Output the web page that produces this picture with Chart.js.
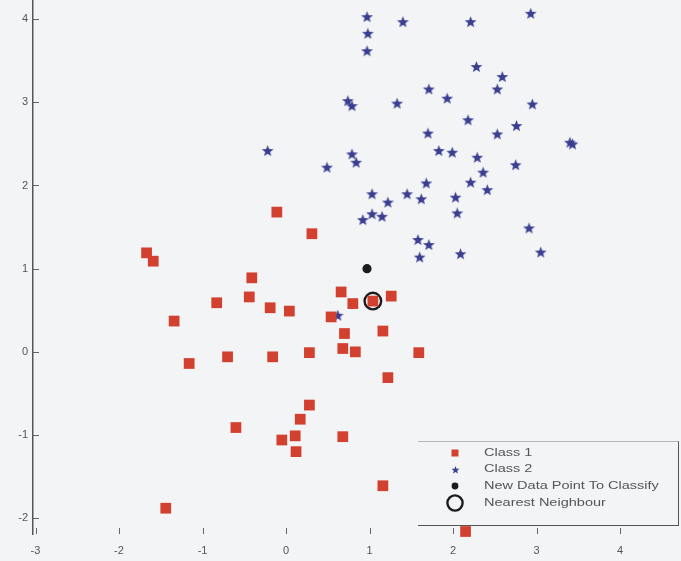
<!DOCTYPE html>
<html>
<head>
<meta charset="utf-8">
<script src="https://cdn.jsdelivr.net/npm/chart.js@4/dist/chart.umd.min.js"></script>
<style>
  html, body { margin: 0; padding: 0; background: #f3f4f6; }
  #wrap { position: relative; width: 681px; height: 561px; overflow: hidden; }
  #c { position: absolute; left: 0; top: 0; }
  #legend {
    position: absolute; left: 418px; top: 441px; width: 260px; height: 83px;
    border-top: 1px solid #b5b5b5; border-right: 1.5px solid #555; border-bottom: 1.5px solid #555;
    font-family: "Liberation Sans", Arial, sans-serif; font-size: 11px; color: #555;
  }
  .row { position: absolute; left: 0; height: 16px; width: 260px; }
  .row canvas { position: absolute; left: 27px; top: -2px; }
  .row span { position: absolute; left: 66px; top: 1px; white-space: nowrap; transform: scaleX(1.32); transform-origin: left center; }
</style>
</head>
<body>
<div id="wrap">
  <canvas id="c" width="681" height="561"></canvas>
  <div id="legend"></div>
</div>
<script>
// ---- data ----
const class1X = [-0.11, 0.31, -1.67, -1.59, -0.41, -0.44, -0.83, -0.19, 0.04, -1.34, 0.66, 0.80, 1.04, 1.26, 0.54, 1.16, 0.70, -0.70, -0.16, 0.28, 0.68, 0.83, 1.59, -1.16, 1.22, 0.28, 0.17, -0.60, 0.11, -0.05, 0.68, 0.12, 1.16, -1.44, 2.15];
const class1Y = [1.68, 1.42, 1.19, 1.09, 0.89, 0.66, 0.59, 0.53, 0.49, 0.37, 0.72, 0.58, 0.61, 0.67, 0.42, 0.25, 0.22, -0.06, -0.06, -0.01, 0.04, 0.00, -0.01, -0.14, -0.31, -0.64, -0.81, -0.91, -1.01, -1.06, -1.02, -1.20, -1.61, -1.88, -2.16];
const class2X = [0.97, 1.40, 2.21, 2.93, 0.98, 0.97, 2.28, 2.59, 2.53, 1.71, 1.93, 0.74, 0.79, 1.33, 2.95, 2.18, 2.76, 2.53, 1.70, 3.40, 3.43, 1.83, 1.99, -0.22, 0.79, 0.84, 0.49, 2.29, 2.36, 2.75, 2.21, 2.41, 1.68, 1.03, 1.22, 1.45, 1.62, 2.03, 2.05, 0.92, 1.03, 1.15, 2.91, 1.58, 1.71, 1.60, 2.09, 3.05, 0.62];
const class2Y = [4.03, 3.97, 3.97, 4.07, 3.83, 3.62, 3.43, 3.31, 3.16, 3.16, 3.05, 3.02, 2.96, 2.99, 2.98, 2.79, 2.72, 2.62, 2.63, 2.52, 2.50, 2.42, 2.40, 2.42, 2.38, 2.28, 2.22, 2.34, 2.16, 2.25, 2.04, 1.95, 2.03, 1.90, 1.80, 1.90, 1.84, 1.86, 1.67, 1.59, 1.66, 1.63, 1.49, 1.35, 1.29, 1.14, 1.18, 1.20, 0.44];
const newPointX = [0.97];
const newPointY = [1.00];
const nearestX = [1.04];
const nearestY = [0.61];
const seriesLabels = ['Class 1', 'Class 2', 'New Data Point To Classify', 'Nearest Neighbour'];
const xTickValues = [-3, -2, -1, 0, 1, 2, 3, 4];
const xTickLabels = ['-3', '-2', '-1', '0', '1', '2', '3', '4'];
const yTickValues = [-2, -1, 0, 1, 2, 3, 4];
const yTickLabels = ['-2', '-1', '0', '1', '2', '3', '4'];

// ---- styles ----
const RED = '#d2412f';
const BLUE = '#3c3f91';
const BLACK = '#1c1c1c';

function makeStar(outer, inner, color) {
  const s = Math.ceil(outer * 2 + 2);
  const cv = document.createElement('canvas');
  cv.width = s; cv.height = s;
  const g = cv.getContext('2d');
  g.translate(s / 2, s / 2 + 0.6);
  g.beginPath();
  for (let i = 0; i < 10; i++) {
    const r = i % 2 === 0 ? outer : inner;
    const a = -Math.PI / 2 + i * Math.PI / 5;
    const px = r * Math.cos(a), py = r * Math.sin(a);
    if (i === 0) g.moveTo(px, py); else g.lineTo(px, py);
  }
  g.closePath();
  g.fillStyle = color;
  g.fill();
  return cv;
}
const starImg = makeStar(6.2, 2.6, BLUE);

function pts(xs, ys) { return xs.map((x, i) => ({ x: x, y: ys[i] })); }

const inwardTicks = {
  id: 'inwardTicks',
  beforeDatasetsDraw(chart) {
    const ctx = chart.ctx;
    const xs = chart.scales.x, ys = chart.scales.y;
    const a = chart.chartArea;
    ctx.save();
    ctx.strokeStyle = '#666';
    ctx.lineWidth = 1;
    ctx.beginPath();
    xs.ticks.forEach(t => {
      const px = Math.round(xs.getPixelForValue(t.value)) + 0.5;
      ctx.moveTo(px, a.bottom); ctx.lineTo(px, a.bottom - 6);
    });
    ys.ticks.forEach(t => {
      const py = Math.round(ys.getPixelForValue(t.value)) + 0.5;
      ctx.moveTo(a.left, py); ctx.lineTo(a.left + 6, py);
    });
    ctx.stroke();
    ctx.restore();
  }
};

const tickFont = { family: '"Liberation Sans", Arial, sans-serif', size: 11 };

const chart = new Chart(document.getElementById('c'), {
  type: 'scatter',
  data: {
    datasets: [
      { label: seriesLabels[0], data: pts(class1X, class1Y), pointStyle: 'rect', pointRadius: 7.6, pointHoverRadius: 7.6, backgroundColor: RED, borderWidth: 0, clip: false },
      { label: seriesLabels[1], data: pts(class2X, class2Y), pointStyle: starImg, pointRadius: 6, backgroundColor: BLUE, borderWidth: 0, clip: false },
      { label: seriesLabels[2], data: pts(newPointX, newPointY), pointStyle: 'circle', pointRadius: 4.6, backgroundColor: BLACK, borderWidth: 0, clip: false },
      { label: seriesLabels[3], data: pts(nearestX, nearestY), pointStyle: 'circle', pointRadius: 8.3, backgroundColor: 'rgba(0,0,0,0)', borderColor: BLACK, borderWidth: 2.4, clip: false }
    ]
  },
  options: {
    responsive: false,
    devicePixelRatio: 1,
    animation: false,
    layout: { padding: 0, autoPadding: false },
    plugins: { legend: { display: false }, tooltip: { enabled: false } },
    scales: {
      x: {
        type: 'linear', position: 'bottom', min: -3.03, max: 4.73,
        grid: { display: false, drawTicks: false },
        border: { display: false },
        afterBuildTicks(s) { s.ticks = xTickValues.map(v => ({ value: v })); },
        afterFit(s) { s.height = 27; s.paddingLeft = 0; s.paddingRight = 0; },
        ticks: {
          font: tickFont, color: '#555', padding: 10, maxRotation: 0, autoSkip: false,
          callback(v) { const i = xTickValues.indexOf(v); return i >= 0 ? xTickLabels[i] : ''; }
        }
      },
      y: {
        type: 'linear', position: 'left', min: -2.19, max: 4.23,
        grid: { display: false, drawTicks: false },
        border: { display: true, color: '#555', width: 1.5 },
        afterBuildTicks(s) { s.ticks = yTickValues.map(v => ({ value: v })); },
        afterFit(s) { s.width = 33; s.paddingTop = 0; s.paddingBottom = 0; },
        ticks: {
          font: tickFont, color: '#555', padding: 5, autoSkip: false,
          callback(v) { const i = yTickValues.indexOf(v); return i >= 0 ? yTickLabels[i] : ''; }
        }
      }
    }
  },
  plugins: [inwardTicks]
});

// ---- HTML legend built from datasets ----
(function buildLegend() {
  const lg = document.getElementById('legend');
  const rowTops = [3, 19, 36, 53];
  chart.data.datasets.forEach((ds, i) => {
    const row = document.createElement('div');
    row.className = 'row';
    row.style.top = rowTops[i] + 'px';
    const mk = document.createElement('canvas');
    mk.width = 20; mk.height = 20;
    const g = mk.getContext('2d');
    if (i === 0) { g.fillStyle = RED; g.fillRect(6.5, 6.5, 7, 7); }
    if (i === 1) { g.drawImage(makeStar(4.2, 1.8, BLUE), 10 - 5, 10 - 5); }
    if (i === 2) { g.fillStyle = BLACK; g.beginPath(); g.arc(10, 10, 3.4, 0, Math.PI * 2); g.fill(); }
    if (i === 3) { g.strokeStyle = BLACK; g.lineWidth = 2.4; g.beginPath(); g.arc(10, 10, 7.6, 0, Math.PI * 2); g.stroke(); }
    const sp = document.createElement('span');
    sp.textContent = ds.label;
    row.appendChild(mk);
    row.appendChild(sp);
    lg.appendChild(row);
  });
})();
</script>
</body>
</html>
